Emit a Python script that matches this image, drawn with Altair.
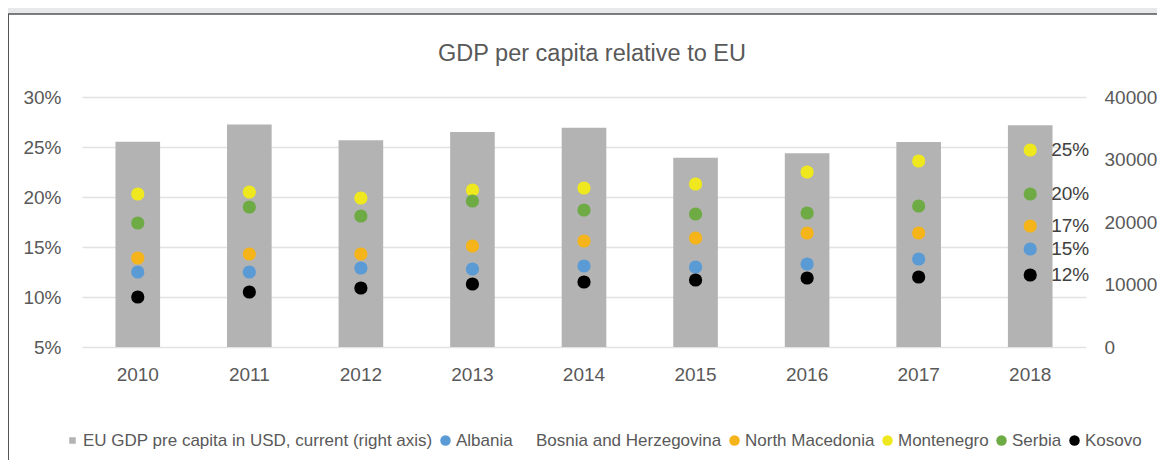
import altair as alt
import pandas as pd

years = ["2010", "2011", "2012", "2013", "2014", "2015", "2016", "2017", "2018"]
eu_gdp = [32850, 35600, 33100, 34400, 35100, 30300, 31000, 32800, 35500]

albania = [12.5, 12.5, 12.9, 12.8, 13.1, 13.0, 13.3, 13.8, 14.8]
north_macedonia = [13.9, 14.3, 14.3, 15.1, 15.6, 15.9, 16.4, 16.4, 17.1]
montenegro = [20.3, 20.5, 19.9, 20.7, 20.9, 21.3, 22.5, 23.6, 24.7]
serbia = [17.4, 19.0, 18.1, 19.6, 18.7, 18.3, 18.4, 19.1, 20.3]
kosovo = [10.0, 10.5, 10.9, 11.3, 11.5, 11.7, 11.9, 12.0, 12.2]

eu_name = "EU GDP pre capita in USD, current (right axis)"
series_names = [eu_name, "Albania", "Bosnia and Herzegovina", "North Macedonia",
                "Montenegro", "Serbia", "Kosovo"]
series_colors = ["#b3b3b3", "#5b9bd5", "transparent", "#f5b41a", "#efe81f", "#6fab45", "#000000"]
series_shapes = ["M-0.62,-0.62H0.62V0.62H-0.62Z", "circle", "circle", "circle",
                 "circle", "circle", "circle"]

country_values = {
    "Albania": albania,
    "North Macedonia": north_macedonia,
    "Montenegro": montenegro,
    "Serbia": serbia,
    "Kosovo": kosovo,
}

bar_df = pd.DataFrame({"year": years, "gdp": eu_gdp, "series": eu_name})
rows = []
for name, vals in country_values.items():
    for y, v in zip(years, vals):
        rows.append({"year": y, "share": v / 100.0, "series": name})
pt_df = pd.DataFrame(rows)

FONT = "Liberation Sans"
LABEL = "#595959"

color_scale = alt.Scale(domain=series_names, range=series_colors)
shape_scale = alt.Scale(domain=series_names, range=series_shapes)
legend = alt.Legend(
    title=None, orient="none", direction="horizontal", columns=7, gridAlign="none",
    legendX=-18, legendY=335, labelFont=FONT, labelFontSize=17, labelColor=LABEL,
    labelOffset=2, columnPadding=4, symbolSize=110, symbolStrokeWidth=0,
    labelLimit=0,
)

x_enc = alt.X("year:N", sort=years,
              scale=alt.Scale(paddingInner=0.6, paddingOuter=0.3),
              axis=alt.Axis(title=None, labelAngle=0, domain=False, ticks=False,
                            labelPadding=18, labelFont=FONT, labelFontSize=19,
                            labelColor=LABEL))

W, H = 1004, 250

# decorative page frame (grey strip and dark border of the panel)
strip = alt.Chart(alt.Data(values=[{}])).mark_rect(fill="#e7e8ea").encode(
    x=alt.value(-74), x2=alt.value(W + 80),
    y=alt.value(-89), y2=alt.value(-83),
)
border_top = alt.Chart(alt.Data(values=[{}])).mark_rule(
    color="#555555", strokeWidth=1.5
).encode(x=alt.value(-74), x2=alt.value(W + 80), y=alt.value(-83))
border_left = alt.Chart(alt.Data(values=[{}])).mark_rule(
    color="#555555", strokeWidth=2
).encode(x=alt.value(-74), y=alt.value(-83), y2=alt.value(H + 120))

bars = alt.Chart(bar_df).mark_bar(color="#b3b3b3").encode(
    x=x_enc,
    y=alt.Y("gdp:Q", scale=alt.Scale(domain=[0, 40000], nice=False),
            axis=alt.Axis(title=None, orient="right", values=[0, 10000, 20000, 30000, 40000],
                          format="d", grid=False, domain=False, ticks=False,
                          labelPadding=18, labelFont=FONT, labelFontSize=19,
                          labelColor=LABEL)),
    color=alt.Color("series:N", scale=color_scale, legend=legend),
)

y_share = alt.Y("share:Q", scale=alt.Scale(domain=[0.05, 0.30], nice=False, zero=False),
                axis=alt.Axis(title=None, orient="left",
                              values=[0.05, 0.10, 0.15, 0.20, 0.25, 0.30],
                              format=".0%", grid=True, gridColor="#e2e2e2", gridWidth=1.5,
                              domain=False, ticks=False, labelPadding=21,
                              labelFont=FONT, labelFontSize=19, labelColor=LABEL))

points = alt.Chart(pt_df).mark_point(filled=True, size=175, opacity=1).encode(
    x=x_enc,
    y=y_share,
    color=alt.Color("series:N", scale=color_scale, legend=legend),
    shape=alt.Shape("series:N", scale=shape_scale, legend=legend),
)

labels = alt.Chart(pt_df).transform_filter(
    alt.datum.year == years[-1]
).mark_text(align="left", baseline="middle", dx=21, font=FONT, fontSize=19,
            color="#404040").encode(
    x=x_enc,
    y=y_share,
    text=alt.Text("share:Q", format=".0%"),
)

pts_layer = alt.layer(points, labels)

chart = alt.layer(strip, border_top, border_left, bars, pts_layer).resolve_scale(
    y="independent"
).properties(
    width=W, height=H,
    autosize="none",
    padding={"left": 74, "top": 89, "right": 71, "bottom": 113},
    title=alt.TitleParams(
        "GDP per capita relative to EU", font=FONT, fontSize=23.5, fontWeight="normal",
        color=LABEL, frame="group", anchor="middle", dx=8, offset=-57,
    ),
).configure(background="white").configure_view(stroke=None)

chart.save("out.html", embed_options={"renderer": "svg", "actions": False})
